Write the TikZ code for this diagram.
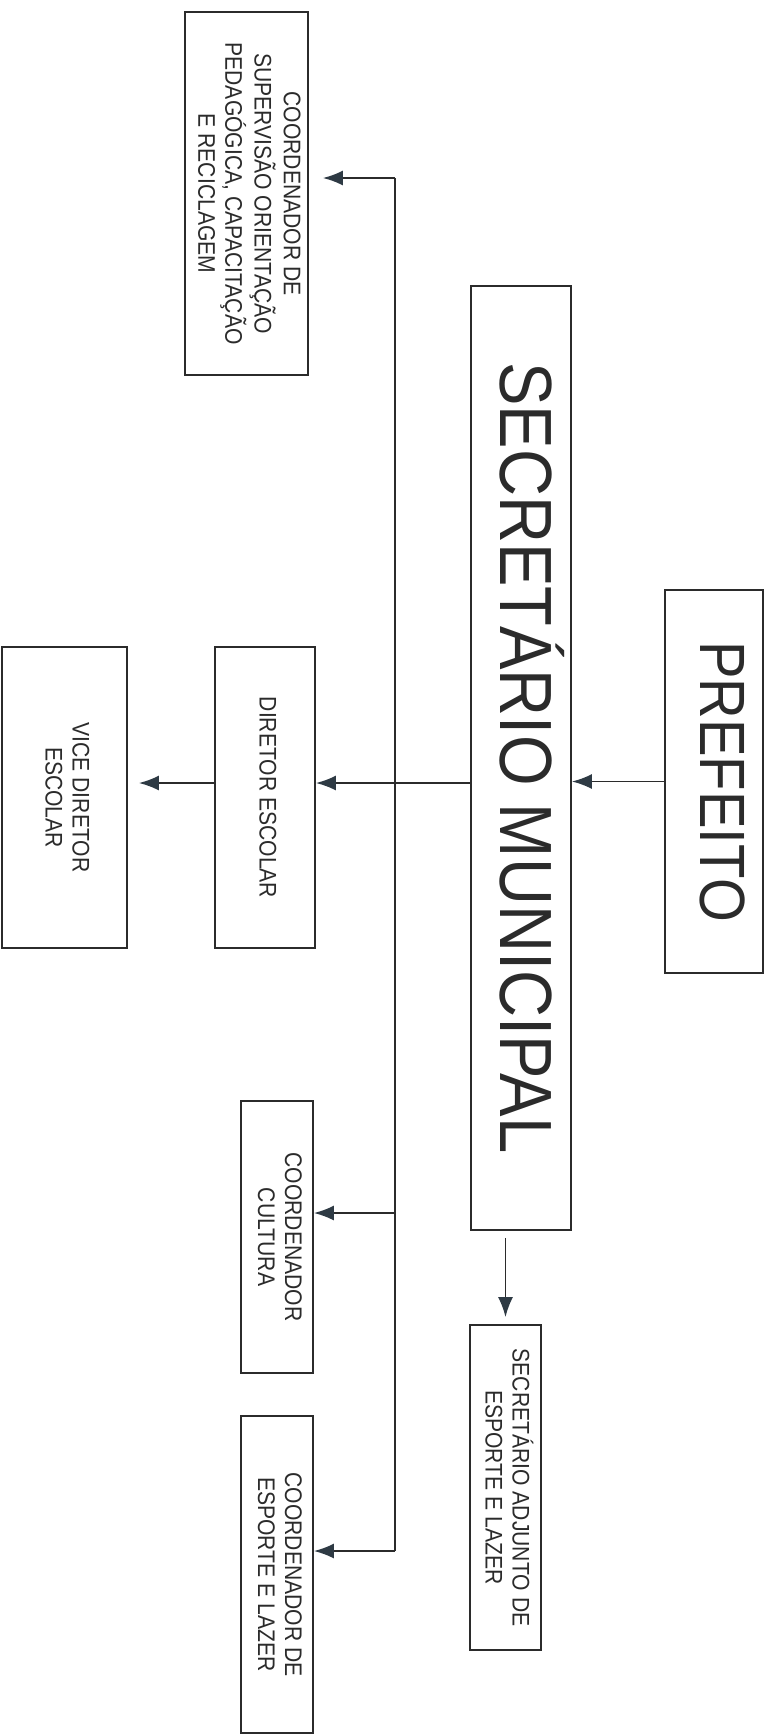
\documentclass[tikz,border=0pt]{standalone}
\usepackage{fontspec}
\setmainfont[FakeStretch=0.88]{Liberation Sans}
\usepackage{graphicx}
\usetikzlibrary{arrows.meta}

\definecolor{ink}{HTML}{2B2B2B}
\definecolor{tipink}{HTML}{2E3A44}
\newcommand{\vtext}[1]{\rotatebox{-90}{\begin{tabular}{@{}c@{}}#1\end{tabular}}}

\begin{document}
\begin{tikzpicture}[x=1pt,y=-1pt,
    box/.style={draw=ink, line width=1.8pt, inner sep=0pt, text=ink, font=\fontsize{24}{27}\selectfont},
    arr/.style={draw=ink, line width=1.8pt, -{Latex[length=20pt,width=15pt,color=tipink]}}]
        \useasboundingbox (0,0) rectangle (773,1735);
        % top of the chart
        \node[box, minimum width=98pt, minimum height=383pt, font=\fontsize{64}{70}\selectfont] (pref) at (714,781.5) {\vtext{PREFEITO}};
        \node[box, minimum width=100pt, minimum height=944pt, font=\fontsize{74}{80}\selectfont] (sec) at (521,758) {\vtext{SECRET\'ARIO MUNICIPAL}};
        \node[box, minimum width=71pt, minimum height=325pt] (adj) at (505.5,1487.5) {\vtext{SECRET\'ARIO ADJUNTO DE\\ESPORTE E LAZER}};
        % boxes below the secretary
        \node[box, minimum width=123pt, minimum height=363pt] (sup) at (246.5,193.5) {\vtext{COORDENADOR DE\\SUPERVIS\~AO ORIENTA\c{C}\~AO\\PEDAG\'OGICA, CAPACITA\c{C}\~AO\\E RECICLAGEM}};
        \node[box, minimum width=100pt, minimum height=301pt] (dir) at (265,797.5) {\vtext{DIRETOR ESCOLAR}};
        \node[box, minimum width=125pt, minimum height=301pt] (vice) at (64.5,797.5) {\vtext{VICE DIRETOR\\ESCOLAR}};
        \node[box, minimum width=72pt, minimum height=272pt] (cult) at (277,1237) {\vtext{COORDENADOR\\CULTURA}};
        \node[box, minimum width=72pt, minimum height=317pt] (esp) at (277,1574.5) {\vtext{COORDENADOR DE\\ESPORTE E LAZER}};
        % connectors
        \coordinate (btop) at (395,178);
        \coordinate (jdir) at (395,783);
        \coordinate (bcul) at (395,1213);
        \coordinate (bbot) at (395,1551);
        \draw[arr] (pref.west) -- (pref.west -| sec.east);
        \draw[arr] (sec.west |- jdir) -- (jdir -| dir.east);
        \draw[arr, shorten >=11pt] (dir.west |- jdir) -- (jdir -| vice.east);
        \draw[arr, shorten <=7pt, shorten >=7pt] (adj.north |- sec.south) -- (adj.north);
        \draw[draw=ink, line width=1.8pt] (btop) -- (bbot);
        \draw[arr, shorten >=14pt] (btop) -- (btop -| sup.east);
        \draw[arr] (bcul) -- (bcul -| cult.east);
        \draw[arr] (bbot) -- (bbot -| esp.east);
    \end{tikzpicture}
\end{document}
